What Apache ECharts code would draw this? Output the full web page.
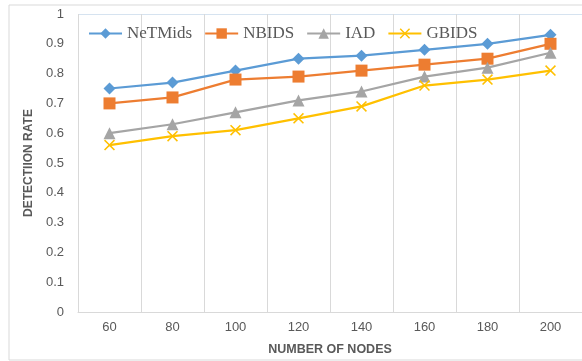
<!DOCTYPE html>
<html><head><meta charset="utf-8">
<script src="https://cdn.jsdelivr.net/npm/echarts@6/dist/echarts.min.js"></script>
<style>html,body{margin:0;padding:0;background:#fff}#c{width:582px;height:361px}</style>
</head><body><div id="c"></div>
<script>
const categories = ['60','80','100','120','140','160','180','200'];
const netmids = [0.75,0.77,0.81,0.85,0.86,0.88,0.90,0.93];
const nbids = [0.70,0.72,0.78,0.79,0.81,0.83,0.85,0.90];
const iad = [0.60,0.63,0.67,0.71,0.74,0.79,0.82,0.87];
const gbids = [0.56,0.59,0.61,0.65,0.69,0.76,0.78,0.81];

const xPath = 'path://M0,1 L1,0 L5,4 L9,0 L10,1 L6,5 L10,9 L9,10 L5,6 L1,10 L0,9 L4,5 Z';
function s(name, data, color, symbol, size){
  return {name, type:'line', data, symbol, symbolSize:size, showAllSymbol:true,
    lineStyle:{color, width:2.25}, itemStyle:{color}, z:3};
}
const splitColors = Array(10).fill('rgba(0,0,0,0)').concat(['#d6e3f0']);
const chart = echarts.init(document.getElementById('c'));
chart.setOption({
  animation:false,
  graphic:[{type:'rect', shape:{x:9,y:5,width:620,height:355}, style:{fill:'none', stroke:'#d9d9d9', lineWidth:1}, z:-1}],
  legend:{left:83, top:20, itemWidth:33, itemHeight:13, itemGap:12,
    textStyle:{fontFamily:'Liberation Serif', fontSize:17, color:'#595959'},
    data:['NeTMids','NBIDS','IAD','GBIDS']},
  grid:{left:78, top:14, width:510, height:303},
  xAxis:{type:'category', data:categories, boundaryGap:true,
    axisLine:{lineStyle:{color:'#d9d9d9'}}, axisTick:{show:false},
    splitLine:{show:true, interval:0, lineStyle:{color:'#d9d9d9'}},
    axisLabel:{color:'#595959', fontSize:13, fontFamily:'Liberation Sans', margin:9, interval:0},
    name:'NUMBER OF NODES', nameLocation:'middle', nameGap:31,
    nameTextStyle:{color:'#595959', fontSize:12.5, fontWeight:'bold', fontFamily:'Liberation Sans'}},
  yAxis:{type:'value', min:0, max:1, interval:0.1,
    axisLine:{show:false}, axisTick:{show:false},
    splitLine:{show:true, lineStyle:{color:splitColors, width:1}},
    axisLabel:{color:'#595959', fontSize:13, fontFamily:'Liberation Sans', margin:14,
      formatter:v=>String(Math.round(v*10)/10)},
    name:'DETECTIION RATE', nameLocation:'middle', nameGap:40,
    nameTextStyle:{color:'#595959', fontSize:12, fontWeight:'bold', fontFamily:'Liberation Sans'}},
  series:[
    s('NeTMids', netmids, '#5B9BD5', 'diamond', 12),
    s('NBIDS', nbids, '#ED7D31', 'rect', 12),
    s('IAD', iad, '#A5A5A5', 'triangle', 12),
    s('GBIDS', gbids, '#FFC000', xPath, 11)
  ]
});
</script></body></html>
